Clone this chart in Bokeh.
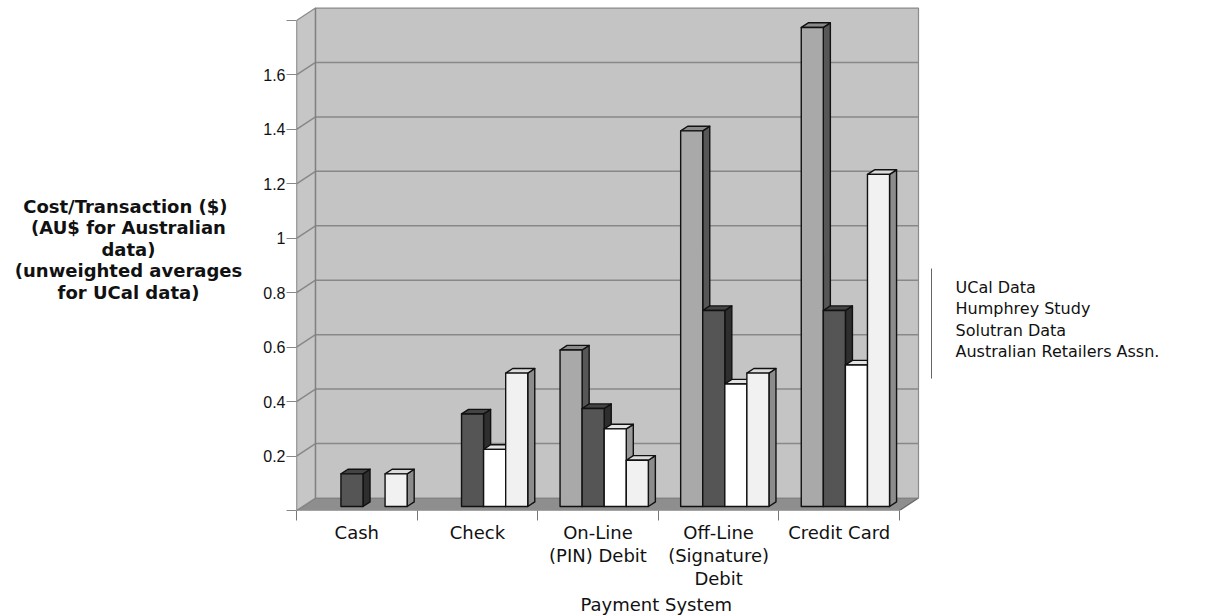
from bokeh.plotting import figure
from bokeh.layouts import row
from bokeh.models import Range1d, FixedTicker, ColumnDataSource, Title
from bokeh.embed import file_html
from bokeh.resources import INLINE
from bokeh.core.properties import value

# ---------------- data ----------------
categories = ["Cash", "Check", "On-Line\n(PIN) Debit", "Off-Line\n(Signature)\nDebit", "Credit Card"]
series_names = ["UCal Data", "Humphrey Study", "Solutran Data", "Australian Retailers Assn."]
ucal = [None, None, 0.575, 1.38, 1.76]
humphrey = [0.12, 0.34, 0.36, 0.72, 0.72]
solutran = [None, 0.21, 0.285, 0.45, 0.52]
ara = [0.12, 0.49, 0.17, 0.49, 1.22]
y_ticks = [0.2, 0.4, 0.6, 0.8, 1.0, 1.2, 1.4, 1.6]
y_tick_labels = ["0.2", "0.4", "0.6", "0.8", "1", "1.2", "1.4", "1.6"]
y_max = 1.8
y_label = "Cost/Transaction  ($)\n(AU$ for Australian\ndata)\n(unweighted averages\nfor UCal data)"
x_label = "Payment System"

# ---------------- styles / geometry ----------------
front_col = ["#a9a9a9", "#555555", "#ffffff", "#f1f1f1"]
top_col = ["#8a8a8a", "#444444", "#e4e4e4", "#dcdcdc"]
side_col = ["#575757", "#2e2e2e", "#9a9a9a", "#8c8c8c"]

W, H = 1205, 615
LABEL_W = 250                    # width of the strip holding the y title
LEFT, BOTTOM = 296, 105
FRAME_W, FRAME_H = W - LEFT, H - BOTTOM
PXX, PXY = 120.6, 272.2          # px per category, px per unit value
DX, DY = 19 / PXX, 12.5 / PXY    # depth offset in data units
BAR_W, GAP = 0.183, 0.135
F_FRONT, F_BACK = 0.32, 0.69
N = len(categories)


def sx(px):
    return (px - LEFT) / PXX


def sy(py):
    return (FRAME_H - py) / PXY


# ---------- strip with the y-axis title ----------
lf = figure(width=LABEL_W, height=H, x_range=Range1d(0, LABEL_W), y_range=Range1d(0, H),
            output_backend="svg", toolbar_location=None,
            x_axis_location=None, y_axis_location=None, min_border=0)
lf.grid.visible = False
lf.outline_line_color = None
lf.text(x=[128], y=[H - 300], text=[y_label], text_align="center", text_baseline="middle",
        text_font=value("DejaVu Sans"), text_font_style="bold", text_font_size="18px",
        text_line_height=1.03, text_color="#111111")

# ---------- main chart ----------
p = figure(width=W - LABEL_W, height=H,
           x_range=Range1d(0, FRAME_W / PXX), y_range=Range1d(0, FRAME_H / PXY),
           output_backend="svg", toolbar_location=None,
           min_border_left=LEFT - LABEL_W, min_border_right=0, min_border_top=0,
           min_border_bottom=BOTTOM)
p.grid.visible = False
p.outline_line_color = None
p.background_fill_color = "white"
p.border_fill_color = "white"

# walls and floor
wall_src = ColumnDataSource(dict(
    xs=[[0, N, N + DX, DX], [0, DX, DX, 0], [DX, N + DX, N + DX, DX]],
    ys=[[0, 0, DY, DY], [0, DY, y_max + DY, y_max], [DY, DY, y_max + DY, y_max + DY]],
    fc=["#8e8e8e", "#c6c6c6", "#c4c4c4"],
    lc=["#666666", "#8a8a8a", "#8a8a8a"],
))
p.patches("xs", "ys", source=wall_src, fill_color="fc", line_color="lc", line_width=1.2)

# gridlines on left wall and back wall
gx, gy = [], []
for t in y_ticks:
    gx.append([0, DX, N + DX]); gy.append([t, t + DY, t + DY])
p.multi_line(gx, gy, line_color="#888888", line_width=1.5)
p.multi_line([[0, 0], [DX, DX]], [[0, y_max], [DY, y_max + DY]], line_color="#808080", line_width=1.3)

# bars (side, top, front, drawn left to right)
series = [ucal, humphrey, solutran, ara]
bx_, by_, bc = [], [], []
fx, fy = F_FRONT * DX, F_FRONT * DY
kx, ky = F_BACK * DX, F_BACK * DY
for i in range(N):
    for j, vals in enumerate(series):
        v = vals[i]
        if v is None:
            continue
        x0 = i + GAP + j * BAR_W
        x1 = x0 + BAR_W
        bx_.append([x1 + fx, x1 + kx, x1 + kx, x1 + fx]); by_.append([fy, ky, v + ky, v + fy]); bc.append(side_col[j])
        bx_.append([x0 + fx, x1 + fx, x1 + kx, x0 + kx]); by_.append([v + fy, v + fy, v + ky, v + ky]); bc.append(top_col[j])
        bx_.append([x0 + fx, x1 + fx, x1 + fx, x0 + fx]); by_.append([fy, fy, v + fy, v + fy]); bc.append(front_col[j])
bar_src = ColumnDataSource(dict(xs=bx_, ys=by_, fc=bc))
p.patches("xs", "ys", source=bar_src, fill_color="fc", line_color="#111111", line_width=1.4, line_join="round")

# legend (text only, with a vertical rule on its left)
leg_y = [sy(287 + 21.4 * k) for k in range(len(series_names))]
p.text(x=[sx(955)] * len(series_names), y=leg_y, text=series_names,
       text_font=value("DejaVu Sans"), text_font_size="16px", text_color="#111111",
       text_baseline="middle", text_align="left")
p.line([sx(931), sx(931)], [sy(268), sy(378)], line_color="#666666", line_width=1)

# y axis
ya = p.yaxis[0]
ya.ticker = FixedTicker(ticks=y_ticks, minor_ticks=[0, y_max])
ya.major_label_overrides = {t: l for t, l in zip(y_ticks, y_tick_labels)}
ya.axis_line_color = None
ya.major_tick_out = 10
ya.major_tick_in = 0
ya.minor_tick_out = 10
ya.minor_tick_in = 0
ya.major_tick_line_color = "#888888"
ya.minor_tick_line_color = "#888888"
ya.major_label_standoff = 1
ya.major_label_text_font = "Liberation Sans"
ya.major_label_text_font_size = "16px"
ya.major_label_text_color = "#111111"

# x axis
xa = p.xaxis[0]
xa.ticker = FixedTicker(ticks=[i + 0.5 for i in range(N)], minor_ticks=list(range(N + 1)))
xa.major_label_overrides = {i + 0.5: c for i, c in enumerate(categories)}
xa.axis_line_color = None
xa.major_tick_line_color = None
xa.major_tick_out = 0
xa.major_tick_in = 0
xa.minor_tick_out = 10
xa.minor_tick_in = 0
xa.minor_tick_line_color = "#777777"
xa.major_label_standoff = 1
xa.major_label_text_font = "DejaVu Sans"
xa.major_label_text_font_size = "18px"
xa.major_label_text_line_height = 1.1
xa.major_label_text_color = "#111111"

# x axis title, centred under the category band
p.add_layout(Title(text=x_label, align="left", offset=284, standoff=0,
                   text_font="DejaVu Sans", text_font_size="18px", text_font_style="normal",
                   text_color="#111111"), "below")

open("out.html", "w").write(file_html(row(lf, p), INLINE))
